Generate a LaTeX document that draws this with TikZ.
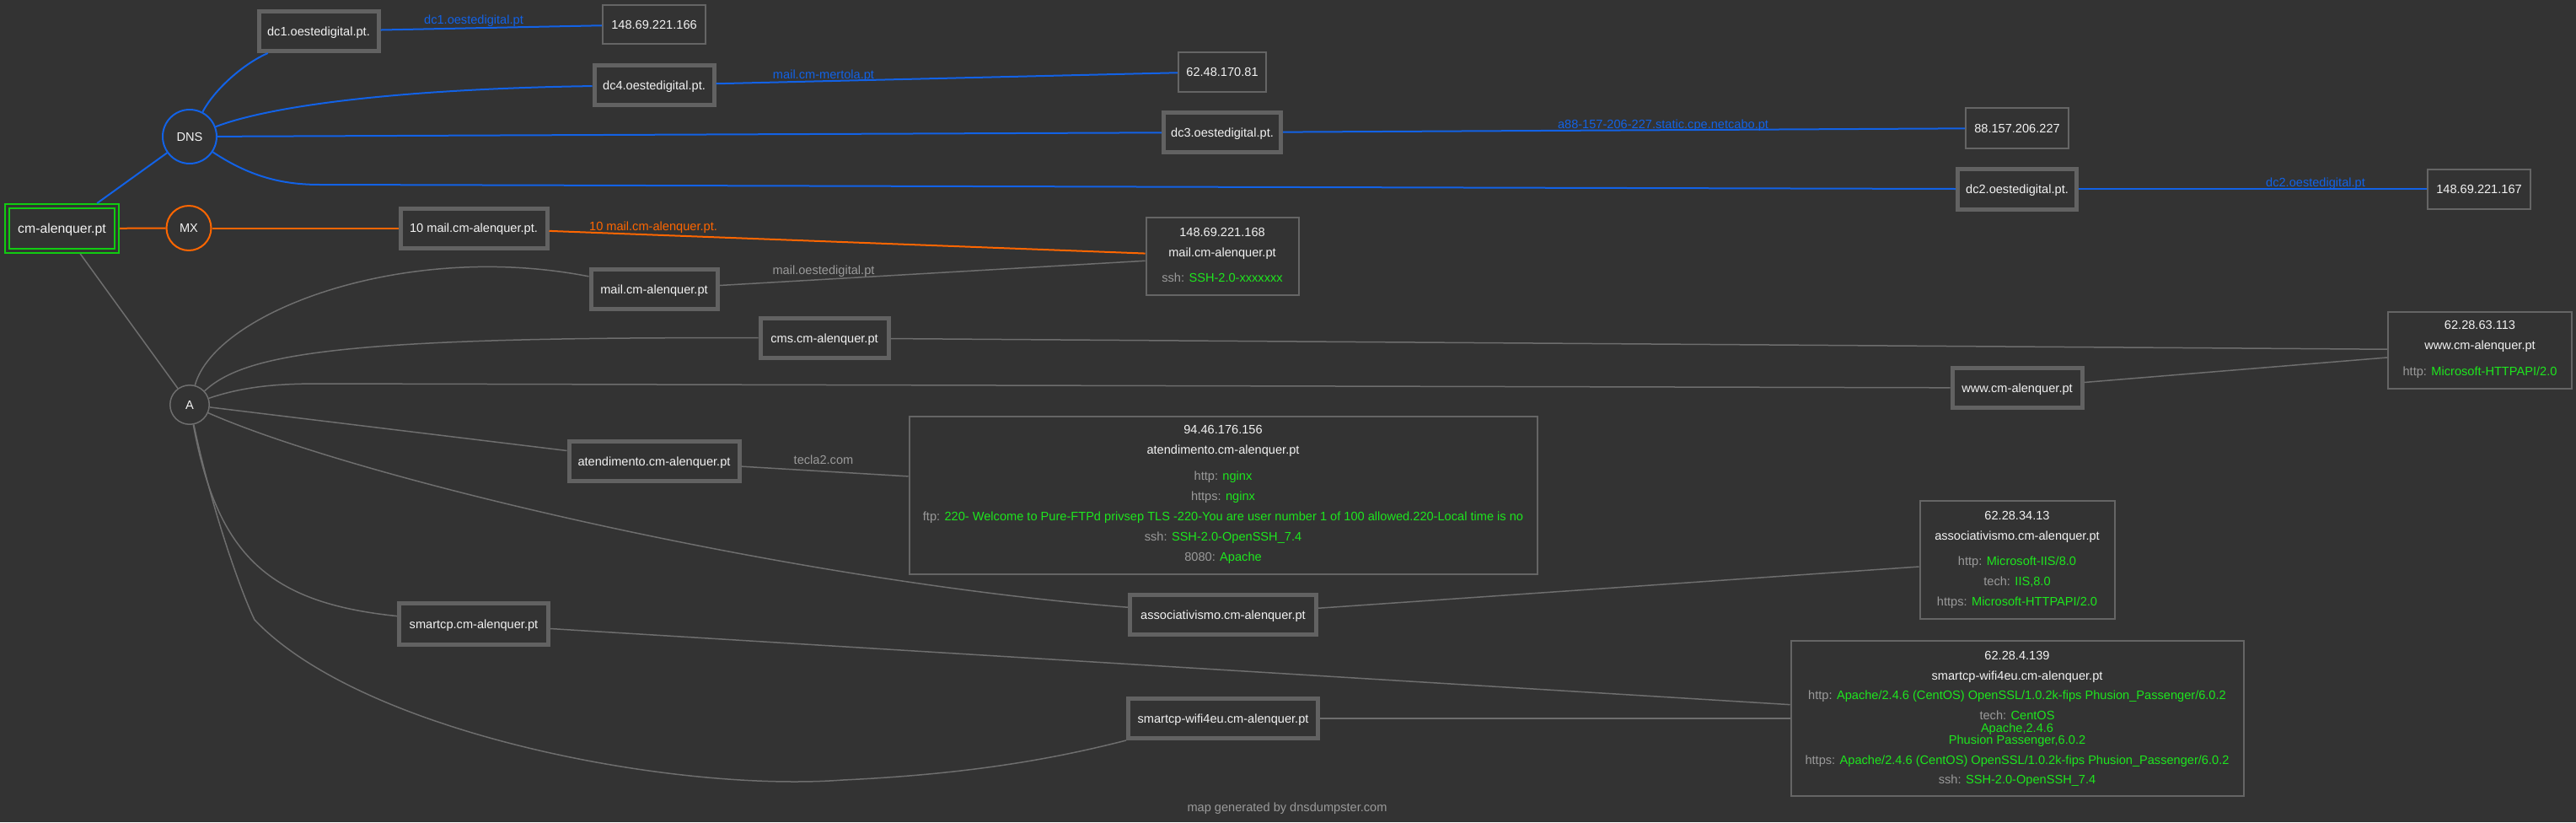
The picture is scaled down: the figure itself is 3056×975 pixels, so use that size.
\documentclass[tikz,border=0pt]{standalone}
\usepackage{fontspec}
\setmainfont{Liberation Sans}
\definecolor{bg}{HTML}{333333}
\definecolor{boxgray}{HTML}{626262}
\definecolor{thingray}{HTML}{656565}
\definecolor{edgegray}{HTML}{6E6E6E}
\definecolor{dnsblue}{HTML}{1262E6}
\definecolor{mxorange}{HTML}{FF6600}
\definecolor{okgreen}{HTML}{1EE61E}
\definecolor{limeg}{HTML}{11CC11}
\definecolor{lblgray}{HTML}{9A9A9A}
\definecolor{txtwhite}{HTML}{F2F2F2}
\begin{document}
\begin{tikzpicture}[x=0.5pt,y=-0.5pt,
  every node/.style={font=\fontsize{7.3pt}{8.8pt}\selectfont, text=txtwhite, inner sep=0pt},
  thickbox/.style={draw=boxgray, line width=2.5pt, fill=bg, minimum width=#1, minimum height=23.5pt, text height=5.2pt, text depth=0pt},
  thinbox/.style n args={2}{draw=thingray, line width=1pt, fill=bg, minimum width=#1, minimum height=#2},
  hub/.style={circle, line width=1pt, text height=5.2pt, text depth=0pt},
  info/.style={anchor=base},
  lbl/.style={anchor=base},
  blueedge/.style={draw=dnsblue, line width=1pt},
  orangeedge/.style={draw=mxorange, line width=1pt},
  grayedge/.style={draw=edgegray, line width=0.75pt},
]
\fill[bg] (0,0) rectangle (3056,975);
\useasboundingbox (0,0) rectangle (3056,975);

% ---------- nodes ----------
\node[draw=limeg, double=bg, line width=1pt, double distance=1.5pt, outer sep=1.75pt,
      minimum width=65pt, minimum height=26.5pt, text height=5.6pt, text depth=0pt,
      font=\fontsize{7.9pt}{9.5pt}\selectfont] (cm) at (73.5,271) {cm-alenquer.pt};
\node[hub, draw=dnsblue, minimum size=32pt] (dns) at (225,162) {DNS};
\node[hub, draw=mxorange, minimum size=26.5pt] (mx) at (224,270.5) {MX};
\node[hub, draw=edgegray, line width=0.75pt, minimum size=23.25pt] (A) at (225,480) {A};

\node[thickbox=71pt] (dc1) at (378,37) {dc1.oestedigital.pt.};
\node[thinbox={61pt}{23pt}] (ip166) at (776,29) {148.69.221.166};
\node[thickbox=71pt] (dc4) at (776,101) {dc4.oestedigital.pt.};
\node[thinbox={52pt}{23.5pt}] (ip81) at (1450,85) {62.48.170.81};
\node[thickbox=69.5pt] (dc3) at (1450,157) {dc3.oestedigital.pt.};
\node[thinbox={61pt}{24pt}] (ip227) at (2393,152) {88.157.206.227};
\node[thickbox=70.5pt, minimum height=24pt] (dc2) at (2393,224) {dc2.oestedigital.pt.};
\node[thinbox={61pt}{23.5pt}] (ip167) at (2941,224) {148.69.221.167};

\node[thickbox=87pt] (tenmail) at (562,270.5) {10 mail.cm-alenquer.pt.};
\node[thickbox=75pt] (mailcm) at (776,343) {mail.cm-alenquer.pt};
\node[thickbox=76pt] (cms) at (978,401) {cms.cm-alenquer.pt};
\node[thickbox=77pt] (www) at (2393,460) {www.cm-alenquer.pt};
\node[thickbox=101pt] (atend) at (776,547) {atendimento.cm-alenquer.pt};
\node[thickbox=110.5pt] (assoc) at (1451,729) {associativismo.cm-alenquer.pt};
\node[thickbox=88.5pt, minimum height=24.5pt] (smartcp) at (562,740) {smartcp.cm-alenquer.pt};
\node[thickbox=112.5pt] (wifi) at (1451,852) {smartcp-wifi4eu.cm-alenquer.pt};

% detail boxes
\node[thinbox={90.5pt}{46pt}] (maildet) at (1450,304) {};
\node[info] (md1) at (1450,280) {148.69.221.168};
\node[info] (md2) at (1450,304) {mail.cm-alenquer.pt};
\node[info] (md3) at (1450,334) {\textcolor{lblgray}{ssh:} \textcolor{okgreen}{SSH-2.0-xxxxxxx}};

\node[thinbox={109pt}{45.5pt}] (wwwdet) at (2942,415) {};
\node[info] (wd1) at (2942,390) {62.28.63.113};
\node[info] (wd2) at (2942,414) {www.cm-alenquer.pt};
\node[info] (wd3) at (2942,445) {\textcolor{lblgray}{http:} \textcolor{okgreen}{Microsoft-HTTPAPI/2.0}};

\node[thinbox={372.5pt}{93.5pt}] (atdet) at (1451,587) {};
\node[info] (ad1) at (1451,514) {94.46.176.156};
\node[info] (ad2) at (1451,538) {atendimento.cm-alenquer.pt};
\node[info] (ad3) at (1451,569) {\textcolor{lblgray}{http:} \textcolor{okgreen}{nginx}};
\node[info] (ad4) at (1451,593) {\textcolor{lblgray}{https:} \textcolor{okgreen}{nginx}};
\node[info] (ad5) at (1451,617) {\textcolor{lblgray}{ftp:} \textcolor{okgreen}{220- Welcome to Pure-FTPd privsep TLS -220-You are user number 1 of 100 allowed.220-Local time is no}};
\node[info] (ad6) at (1451,641) {\textcolor{lblgray}{ssh:} \textcolor{okgreen}{SSH-2.0-OpenSSH\_7.4}};
\node[info] (ad7) at (1451,665) {\textcolor{lblgray}{8080:} \textcolor{okgreen}{Apache}};

\node[thinbox={115.5pt}{70pt}] (assocdet) at (2393,664) {};
\node[info] (sd1) at (2393,616) {62.28.34.13};
\node[info] (sd2) at (2393,640) {associativismo.cm-alenquer.pt};
\node[info] (sd3) at (2393,670) {\textcolor{lblgray}{http:} \textcolor{okgreen}{Microsoft-IIS/8.0}};
\node[info] (sd4) at (2393,694) {\textcolor{lblgray}{tech:} \textcolor{okgreen}{IIS,8.0}};
\node[info] (sd5) at (2393,718) {\textcolor{lblgray}{https:} \textcolor{okgreen}{Microsoft-HTTPAPI/2.0}};

\node[thinbox={268.5pt}{92pt}] (wifidet) at (2393,852) {};
\node[info] (fd1) at (2393,782) {62.28.4.139};
\node[info] (fd2) at (2393,806) {smartcp-wifi4eu.cm-alenquer.pt};
\node[info] (fd3) at (2393,829) {\textcolor{lblgray}{http:} \textcolor{okgreen}{Apache/2.4.6 (CentOS) OpenSSL/1.0.2k-fips Phusion\_Passenger/6.0.2}};
\node[info] (fd4) at (2393,853) {\textcolor{lblgray}{tech:} \textcolor{okgreen}{CentOS}};
\node[info] (fd5) at (2393,868) {\textcolor{okgreen}{Apache,2.4.6}};
\node[info] (fd6) at (2393,882) {\textcolor{okgreen}{Phusion Passenger,6.0.2}};
\node[info] (fd7) at (2393,906) {\textcolor{lblgray}{https:} \textcolor{okgreen}{Apache/2.4.6 (CentOS) OpenSSL/1.0.2k-fips Phusion\_Passenger/6.0.2}};
\node[info] (fd8) at (2393,929) {\textcolor{lblgray}{ssh:} \textcolor{okgreen}{SSH-2.0-OpenSSH\_7.4}};

\node[info, text=lblgray] (footer) at (1527,962) {map generated by dnsdumpster.com};

% edge labels
\node[lbl, text=dnsblue] (ldc1) at (562,28) {dc1.oestedigital.pt};
\node[lbl, text=dnsblue] (ldc4) at (977,93) {mail.cm-mertola.pt};
\node[lbl, text=dnsblue] (ldc3) at (1973,152) {a88-157-206-227.static.cpe.netcabo.pt};
\node[lbl, text=dnsblue] (ldc2) at (2747,221) {dc2.oestedigital.pt};
\node[lbl, text=mxorange] (lmx) at (775,273) {10 mail.cm-alenquer.pt.};
\node[lbl, text=lblgray] (lmail) at (977,325) {mail.oestedigital.pt};
\node[lbl, text=lblgray] (lat) at (977,550) {tecla2.com};

% ---------- edges ----------
% DNS
\draw[blueedge] (cm) -- (dns);
\draw[blueedge] (dns) .. controls (255,105) and (290,75) .. (dc1);
\draw[blueedge] (dns) .. controls (330,122) and (500,105) .. (dc4);
\draw[blueedge] (dns) -- (dc3);
\draw[blueedge] (dns) .. controls (300,212) and (340,219) .. (380,219) -- (dc2.west);
\draw[blueedge] (dc1) -- (ip166);
\draw[blueedge] (dc4) -- (ip81);
\draw[blueedge] (dc3) -- (ip227);
\draw[blueedge] (dc2) -- (ip167);
% MX
\draw[orangeedge] (cm) -- (mx);
\draw[orangeedge] (mx) -- (tenmail);
\draw[orangeedge] (tenmail) -- (maildet);
% A
\draw[grayedge] (cm) -- (A);
\draw[grayedge] (A) .. controls (255,370) and (480,285) .. (mailcm);
\draw[grayedge] (A) .. controls (290,420) and (400,399) .. (cms);
\draw[grayedge] (A) .. controls (290,458) and (330,455) .. (380,455) -- (www);
\draw[grayedge] (A) -- (atend);
\draw[grayedge] (A) .. controls (430,570) and (950,690) .. (assoc);
\draw[grayedge] (A) .. controls (258,660) and (320,715) .. (smartcp);
\draw[grayedge] (A) .. controls (250,600) and (285,700) .. (302,735)
   .. controls (430,870) and (800,940) .. (1000,925)
   .. controls (1150,918) and (1250,900) .. (wifi.south west);
\draw[grayedge] (mailcm) -- (maildet);
\draw[grayedge] (cms) -- (wwwdet);
\draw[grayedge] (www) -- (wwwdet);
\draw[grayedge] (atend) -- (atdet);
\draw[grayedge] (assoc) -- (assocdet);
\draw[grayedge] (smartcp) -- (wifidet);
\draw[grayedge] (wifi) -- (wifidet);
\end{tikzpicture}
\end{document}
